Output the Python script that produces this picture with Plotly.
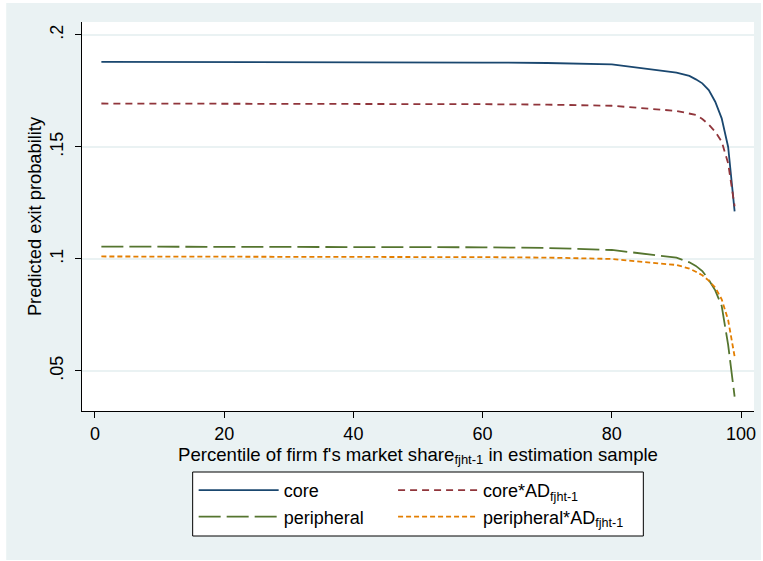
import plotly.graph_objects as go

pct = [1, 10, 20, 30, 40, 50, 60, 70, 80, 90, 91, 92, 93, 94, 95, 96, 97, 98, 99]
core = [0.1880, 0.1880, 0.1880, 0.1879, 0.1879, 0.1878, 0.1877, 0.1875, 0.1869, 0.1832,
        0.1826, 0.1817, 0.1802, 0.1784, 0.1754, 0.1702, 0.1628, 0.1500, 0.1212]
core_ad = [0.1694, 0.1694, 0.1694, 0.1693, 0.1693, 0.1692, 0.1691, 0.1689, 0.1684, 0.1661,
           0.1656, 0.1651, 0.1643, 0.1625, 0.1600, 0.1568, 0.1524, 0.1427, 0.1235]
peripheral = [0.1055, 0.1055, 0.1055, 0.1054, 0.1054, 0.1053, 0.1052, 0.1049, 0.1040, 0.1006,
              0.0997, 0.0985, 0.0969, 0.0946, 0.0907, 0.0860, 0.0790, 0.0616, 0.0385]
peripheral_ad = [0.1011, 0.1011, 0.1011, 0.1010, 0.1010, 0.1009, 0.1008, 0.1006, 0.1000, 0.0973,
                 0.0966, 0.0957, 0.0943, 0.0927, 0.0903, 0.0872, 0.0820, 0.0727, 0.0564]

names = ["core", "core*AD<sub>fjht-1</sub>", "peripheral", "peripheral*AD<sub>fjht-1</sub>"]
colors = ["#1a476f", "#90353b", "#55752f", "#e37e00"]
dashes = ["solid", "7px,5px", "22px,6px", "5px,3px"]
legends = ["legend", "legend2", "legend", "legend2"]
series = [core, core_ad, peripheral, peripheral_ad]

FONT = "Liberation Sans, Arial, sans-serif"
FS = 18

BG = "#eaf2f3"
W, H = 763, 561
L, R, T, B = 82, 7, 22, 150
pw, ph = W - L - R, H - T - B


def px2x(p):
    return (p - L) / pw


def py2y(p):
    return (H - B - p) / ph


fig = go.Figure()
for n, c, d, lg, s in zip(names, colors, dashes, legends, series):
    fig.add_trace(go.Scatter(x=pct, y=s, mode="lines", name=n, legend=lg,
                             line=dict(color=c, width=1.8, dash=d)))

# graph region background and plot region
fig.add_shape(type="rect", xref="paper", yref="paper", layer="below",
              x0=px2x(6), x1=px2x(763), y0=py2y(560), y1=py2y(3),
              fillcolor=BG, line=dict(width=0))
fig.add_shape(type="rect", xref="paper", yref="paper", layer="below",
              x0=0, x1=1, y0=0, y1=1, fillcolor="white", line=dict(width=0))
# legend box
fig.add_shape(type="rect", xref="paper", yref="paper", layer="below",
              x0=px2x(193), x1=px2x(645), y0=py2y(536), y1=py2y(472),
              fillcolor="white", line=dict(color="black", width=1))

leg_common = dict(orientation="v", yanchor="top", y=py2y(472), xanchor="left",
                  bgcolor="rgba(0,0,0,0)", borderwidth=0, itemwidth=80,
                  tracegroupgap=0, font=dict(family=FONT, size=FS))

fig.update_layout(
    width=W, height=H,
    margin=dict(l=L, r=R, t=T, b=B),
    paper_bgcolor="white", plot_bgcolor="rgba(0,0,0,0)",
    font=dict(family=FONT, size=FS, color="black"),
    showlegend=True,
    legend=dict(x=px2x(194), **leg_common),
    legend2=dict(x=px2x(394), **leg_common),
    xaxis=dict(range=[-2.0, 102.0], tickvals=[0, 20, 40, 60, 80, 100],
               ticks="outside", ticklen=6, tickcolor="black", showgrid=False,
               showline=True, linecolor="black", linewidth=1, zeroline=False,
               tickfont=dict(size=FS),
               title=dict(text="Percentile of firm f's market share<sub>fjht-1</sub> in estimation sample",
                          standoff=2, font=dict(size=18.6))),
    yaxis=dict(range=[0.0321, 0.2058], tickvals=[0.05, 0.1, 0.15, 0.2],
               ticktext=[".05", ".1", ".15", ".2"], tickangle=-90,
               ticks="outside", ticklen=6, tickcolor="black", ticklabelstandoff=5,
               tickfont=dict(size=FS),
               showgrid=True, gridcolor=BG, gridwidth=1.5,
               showline=True, linecolor="black", linewidth=1, zeroline=False,
               title=dict(text="Predicted exit probability", standoff=0, font=dict(size=18.3))),
)

fig.write_html("out.html")
